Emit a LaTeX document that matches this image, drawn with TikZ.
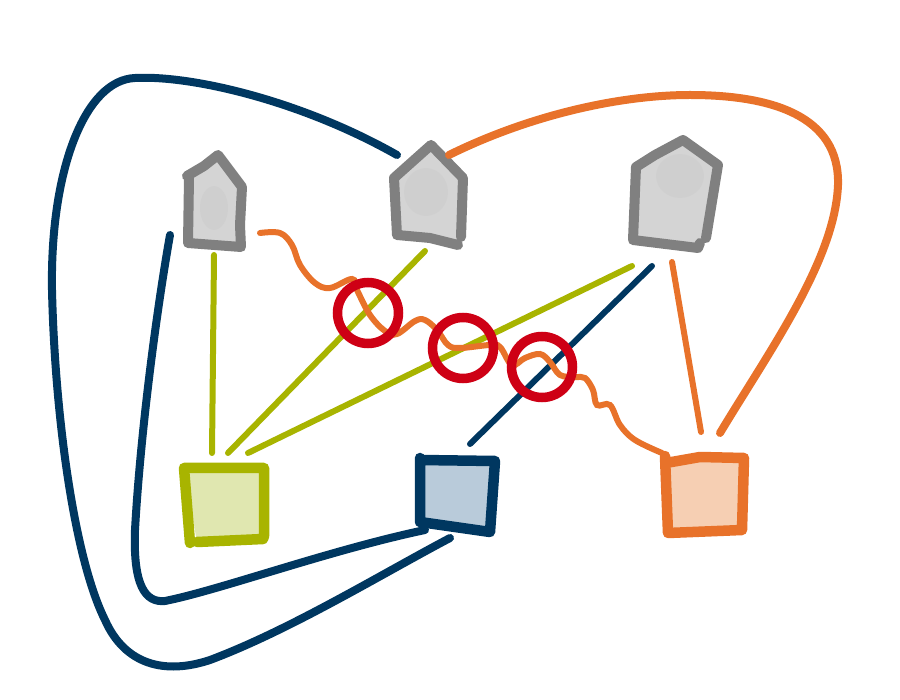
\documentclass[tikz,border=0pt]{standalone}
\usepackage{tikz}
\usetikzlibrary{calc}
\definecolor{navy}{HTML}{003760}
\definecolor{navyfill}{HTML}{B9CBDA}
\definecolor{olive}{HTML}{A8B400}
\definecolor{olivefill}{HTML}{E0E7B0}
\definecolor{ember}{HTML}{E8722A}
\definecolor{emberfill}{HTML}{F6CFB3}
\definecolor{slate}{HTML}{808080}
\definecolor{mist}{HTML}{D4D4D4}
\definecolor{blocker}{HTML}{CE0015}
\tikzset{
  frame/.style={inner sep=0pt,outer sep=0pt,minimum width=#1},
  hostshape/.style={draw=slate,fill=mist,line width=10pt,line cap=round,line join=round},
  sketchbox/.style={line width=10.5pt,line cap=round,line join=round},
  wire/.style={line width=8pt,line cap=round},
  slimwire/.style={line width=6pt,line cap=round},
  blockmark/.style={circle,draw=blocker,line width=9.5pt,minimum size=61pt,inner sep=0pt}
}

\begin{document}
\begin{tikzpicture}[x=1pt,y=-1pt]
  \useasboundingbox (0,0) rectangle (900,700);

  \node[frame=58pt,minimum height=94pt] (hostA) at (215,200) {};
  \node[frame=74pt,minimum height=104pt] (hostB) at (429,194) {};
  \node[frame=90pt,minimum height=112pt] (hostC) at (675,193) {};
  \node[frame=84pt,minimum height=80pt] (boxG) at (222,504) {};
  \node[frame=76pt,minimum height=76pt] (boxN) at (457,496) {};
  \node[frame=84pt,minimum height=78pt] (boxO) at (704,494) {};

  \draw[hostshape] (187,176) -- (204,166) -- (218,155) -- (242,187) -- (240,225) -- (241,247)
    -- (188,243) -- (189,178);
  \draw[hostshape] (461,237) -- (463,178) -- (431,145) -- (394,178) -- (397,235) -- (430,238) -- (458,245);
  \draw[hostshape] (706,238) -- (718,165) -- (683,140) -- (655,155) -- (636,167) -- (633,240)
    -- (698,248) -- (700,243);

  \fill[slate,opacity=.05] (214,208) ellipse (14 and 22);
  \fill[slate,opacity=.05] (426,192) ellipse (22 and 24);
  \fill[slate,opacity=.05] (680,176) ellipse (24 and 22);

  \draw[sketchbox,draw=olive,fill=olivefill] (184,468) -- (264,468) -- (264,536) -- (263,539) -- (197,542)
    (190,543) -- (184,468);
  \draw[sketchbox,draw=navy,fill=navyfill] (420,458) -- (420,522) -- (490,532) -- (495,461) -- (420,460);
  \draw[sketchbox,draw=ember,fill=emberfill] (665,456) -- (668,533) -- (742,530) -- (744,458) -- (700,457) -- (666,463);

  \draw[slimwire,olive] ([shift={(-1,8)}]hostA.south) -- ([shift={(-10,-11)}]boxG.north);
  \draw[slimwire,olive] ([shift={(-4,5)}]hostB.south) -- ([shift={(6,-11)}]boxG.north);
  \draw[slimwire,olive] ([shift={(-43,17)}]hostC.south) -- ([shift={(26,-11)}]boxG.north);

  \draw[wire,navy] ([shift={(5,13)}]hostB.north west) .. controls (300,100) and (190,75) .. (135,78)
    .. controls (85,80) and (50,170) .. (52,290) .. controls (55,420) and (75,560) .. (105,620)
    .. controls (125,665) and (165,675) .. (210,660) .. controls (290,630) and (380,575)
    .. ([shift={(-7,4)}]boxN.south);
  \draw[wire,navy] ([shift={(-16,-12)}]hostA.south west) .. controls (155,320) and (140,440) .. (135,530)
    .. controls (133,585) and (145,603) .. (165,601) .. controls (220,590) and (330,550)
    .. ([shift={(6,-4)}]boxN.south west);
  \draw[slimwire,navy] ([shift={(-23,17)}]hostC.south) -- ([shift={(13,-14)}]boxN.north);

  \draw[wire,ember] ([shift={(20,13)}]hostB.north) .. controls (530,115) and (620,95) .. (690,95)
    .. controls (770,95) and (840,115) .. (838,185) .. controls (835,260) and (770,350)
    .. ([shift={(16,-22)}]boxO.north);
  \draw[slimwire,ember] ([shift={(-3,13)}]hostC.south) -- ([shift={(-3,-23)}]boxO.north);
  \draw[slimwire,ember] plot[smooth,tension=.6] coordinates
    {([shift={(16,-14)}]hostA.south east) (280,233) (292,245) (300,265) (315,283) (330,288) (352,279)
     (357,290) (370,315) (385,331) (397,334) (415,321) (425,320) (437,330) (448,345) (460,348) (490,345)
     (500,347) (512,365) (525,358) (540,354) (550,362) (560,375) (575,377) (585,378) (593,390) (597,405)
     (610,405) (620,425) (635,440) ([shift={(-42,-2)}]boxO.north)};

  \node[blockmark] (markA) at (368,313) {};
  \node[blockmark] (markB) at (463,348) {};
  \node[blockmark] (markC) at (542,367) {};
\end{tikzpicture}
\end{document}
